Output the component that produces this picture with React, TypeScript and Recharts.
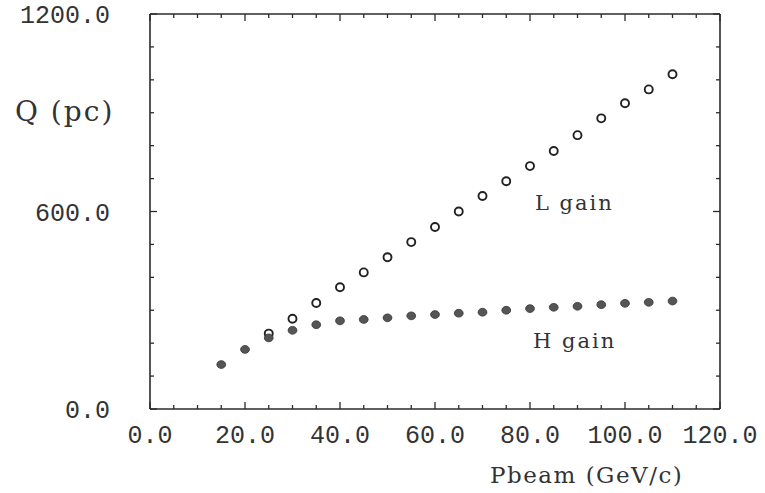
import { Scatter, ScatterChart, XAxis, YAxis } from "recharts";

// beam momentum (GeV/c) for the H-gain points
const pBeam = [15, 20, 25, 30, 35, 40, 45, 50, 55, 60, 65, 70, 75, 80, 85, 90, 95, 100, 105, 110];
const hGain = [135, 181, 216, 239, 256, 268, 272, 277, 283, 287, 291, 294, 300, 305, 309, 312, 317, 321, 324, 328];

// L gain points (below 25 GeV/c they sit under the H points)
const lBeam = [25, 30, 35, 40, 45, 50, 55, 60, 65, 70, 75, 80, 85, 90, 95, 100, 105, 110];
const lGain = [229, 274, 322, 370, 415, 461, 507, 553, 600, 647, 692, 738, 784, 832, 883, 929, 971, 1017];

const xTicks = [0, 5, 10, 15, 20, 25, 30, 35, 40, 45, 50, 55, 60, 65, 70, 75, 80, 85, 90, 95, 100, 105, 110, 115, 120];
const xLabelTicks = [0, 20, 40, 60, 80, 100, 120];
const yTicks = [0, 100, 200, 300, 400, 500, 600, 700, 800, 900, 1000, 1100, 1200];
const yLabelTicks = [0, 600, 1200];

const hData = pBeam.map((p, i) => ({ p, q: hGain[i] }));
const lData = lBeam.map((p, i) => ({ p, q: lGain[i] }));

const ink = "#2b2b2b";
const tickFont = "'Liberation Mono', monospace";
const serif = "'DejaVu Serif', serif";

function BottomTick(props: any) {
  const { x, y, payload } = props;
  const v = payload.value as number;
  const major = v % 20 === 0;
  return (
    <g>
      <line x1={x} x2={x} y1={y} y2={y - (major ? 7 : 4)} stroke={ink} strokeWidth={1.3} />
      {xLabelTicks.includes(v) && (
        <text x={x} y={y + 34} textAnchor="middle" fontFamily={tickFont} fontSize={25} fill="#333">
          {v.toFixed(1)}
        </text>
      )}
    </g>
  );
}

function TopTick(props: any) {
  const { x, y, payload } = props;
  const major = (payload.value as number) % 20 === 0;
  return <line x1={x} x2={x} y1={y} y2={y + (major ? 7 : 4)} stroke={ink} strokeWidth={1.3} />;
}

function LeftTick(props: any) {
  const { x, y, payload } = props;
  const v = payload.value as number;
  const major = v % 600 === 0;
  return (
    <g>
      <line x1={x} x2={x + (major ? 7 : 4)} y1={y} y2={y} stroke={ink} strokeWidth={1.3} />
      {yLabelTicks.includes(v) && (
        <text x={x - 40} y={y + 9} textAnchor="end" fontFamily={tickFont} fontSize={25} fill="#333">
          {v.toFixed(1)}
        </text>
      )}
    </g>
  );
}

function RightTick(props: any) {
  const { x, y, payload } = props;
  const major = (payload.value as number) % 600 === 0;
  return <line x1={x} x2={x - (major ? 7 : 4)} y1={y} y2={y} stroke={ink} strokeWidth={1.3} />;
}

function OpenDot(props: any) {
  const { cx, cy } = props;
  return <circle cx={cx} cy={cy} r={4} fill="#fff" stroke="#222" strokeWidth={1.9} />;
}

function FilledDot(props: any) {
  const { cx, cy } = props;
  return <ellipse cx={cx} cy={cy} rx={4.4} ry={3.9} fill="#555" stroke="#333" strokeWidth={0.8} />;
}

function NoDot() {
  return <g />;
}

const labelStyle = {
  position: "absolute" as const,
  fontFamily: serif,
  color: "#333",
  whiteSpace: "nowrap" as const,
  lineHeight: 1,
};

export default function App() {
  return (
    <div style={{ position: "absolute", left: 0, top: 0, width: 765, height: 493, background: "#fff" }}>
      <ScatterChart width={765} height={493} margin={{ top: 13, right: 44, left: 0, bottom: 0 }}>
        <XAxis
          xAxisId="bottom"
          type="number"
          dataKey="p"
          domain={[0, 120]}
          ticks={xTicks}
          interval={0}
          height={84}
          tickSize={0}
          tickMargin={0}
          tickLine={false}
          axisLine={{ stroke: ink, strokeWidth: 1.6 }}
          tick={<BottomTick />}
        />
        <XAxis
          xAxisId="top"
          orientation="top"
          type="number"
          dataKey="p"
          domain={[0, 120]}
          ticks={xTicks}
          interval={0}
          height={1}
          tickSize={0}
          tickMargin={0}
          tickLine={false}
          axisLine={{ stroke: ink, strokeWidth: 1.6 }}
          tick={<TopTick />}
        />
        <YAxis
          yAxisId="left"
          type="number"
          dataKey="q"
          domain={[0, 1200]}
          ticks={yTicks}
          interval={0}
          width={150}
          tickSize={0}
          tickMargin={0}
          tickLine={false}
          axisLine={{ stroke: ink, strokeWidth: 1.6 }}
          tick={<LeftTick />}
        />
        <YAxis
          yAxisId="right"
          orientation="right"
          type="number"
          dataKey="q"
          domain={[0, 1200]}
          ticks={yTicks}
          interval={0}
          width={1}
          tickSize={0}
          tickMargin={0}
          tickLine={false}
          axisLine={{ stroke: ink, strokeWidth: 1.6 }}
          tick={<RightTick />}
        />
        <Scatter data={hData} xAxisId="top" yAxisId="right" shape={<NoDot />} isAnimationActive={false} />
        <Scatter data={lData} xAxisId="bottom" yAxisId="left" shape={<OpenDot />} isAnimationActive={false} />
        <Scatter data={hData} xAxisId="bottom" yAxisId="left" shape={<FilledDot />} isAnimationActive={false} />
      </ScatterChart>
      <div style={{ ...labelStyle, left: 15, top: 98, fontSize: 28, letterSpacing: 2 }}>Q (pc)</div>
      <div style={{ ...labelStyle, left: 490, top: 464, fontSize: 23, letterSpacing: 1.5 }}>Pbeam (GeV/c)</div>
      <div style={{ ...labelStyle, left: 535, top: 193, fontSize: 21, letterSpacing: 2 }}>L gain</div>
      <div style={{ ...labelStyle, left: 533, top: 331, fontSize: 21, letterSpacing: 2 }}>H gain</div>
    </div>
  );
}
